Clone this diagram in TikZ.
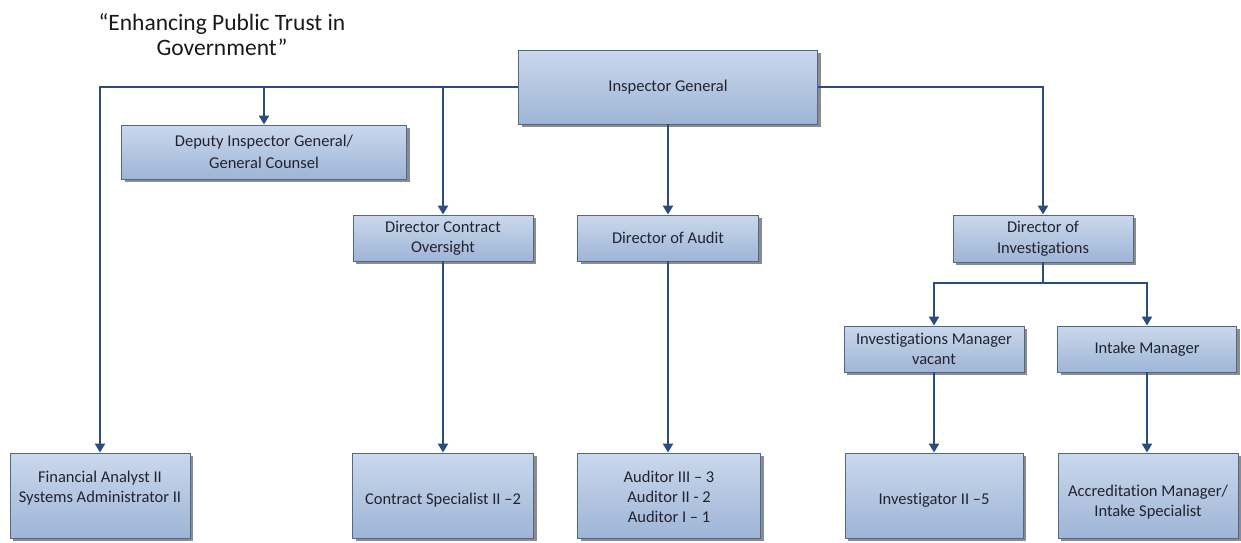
\documentclass[tikz,border=0pt]{standalone}
\usepackage{fontspec}
\setmainfont{Carlito}[Ligatures=NoCommon]
\usetikzlibrary{shadows,arrows.meta}
\definecolor{boxtop}{RGB}{202,216,236}
\definecolor{boxbot}{RGB}{158,181,214}
\definecolor{boxline}{RGB}{78,104,142}
\definecolor{linkc}{RGB}{43,76,126}
\definecolor{txtc}{RGB}{35,35,45}
\begin{document}
\begin{tikzpicture}[x=1pt,y=-1pt,
  orgbox/.style={draw=boxline, line width=0.9pt, top color=boxtop, bottom color=boxbot,
    shading angle=0, inner sep=2pt, align=center, text=txtc,
    font=\fontsize{16.5}{20.5}\selectfont,
    drop shadow={shadow xshift=3pt, shadow yshift=-3pt, fill=black!50, opacity=0.9}},
  boxtext/.style={align=center, text=txtc, inner sep=0pt, font=\fontsize{16.5}{20}\selectfont},
  link/.style={draw=linkc, line width=2.3pt},
  arr/.style={link, -{Triangle[width=10pt,length=9pt]}}]
\useasboundingbox (0,0) rectangle (1241,542);
\node[font=\fontsize{23.5}{25}\selectfont, align=center, text=black!90] (title) at (222,35)
  {“Enhancing Public Trust in\\Government”};
% boxes
\node[orgbox, minimum width=299pt, minimum height=74pt] (ig) at (668,87) {Inspector General};
\node[orgbox, minimum width=285pt, minimum height=54pt, font=\fontsize{16.5}{22}\selectfont] (dep) at (264,152) {Deputy Inspector General/\\General Counsel};
\node[orgbox, minimum width=180pt, minimum height=46pt] (dco) at (443,238) {Director Contract\\Oversight};
\node[orgbox, minimum width=181pt, minimum height=46pt] (doa) at (668,238) {Director of Audit};
\node[orgbox, minimum width=180pt, minimum height=47pt] (doi) at (1043,238.5) {Director of\\Investigations};
\node[orgbox, minimum width=180pt, minimum height=46pt] (im) at (934,349) {Investigations Manager\\vacant};
\node[orgbox, minimum width=179pt, minimum height=46pt] (intake) at (1147,349) {Intake Manager};
\node[orgbox, minimum width=180pt, minimum height=85pt] (fin) at (100,495.5) {};
\node[orgbox, minimum width=181pt, minimum height=85pt] (cs) at (443,495.5) {};
\node[orgbox, minimum width=183pt, minimum height=85pt] (aud) at (669,495.5) {};
\node[orgbox, minimum width=178pt, minimum height=85pt] (inv) at (934,495.5) {};
\node[orgbox, minimum width=180pt, minimum height=85pt] (acc) at (1148,495.5) {};
\node[boxtext] (fint) at (100,488) {Financial Analyst II\\Systems Administrator II};
\node[boxtext] (cst) at (443,500) {Contract Specialist II –2};
\node[boxtext] (audt) at (669,497) {Auditor III – 3\\Auditor II - 2\\Auditor I – 1};
\node[boxtext] (invt) at (934,500) {Investigator II –5};
\node[boxtext] (acct) at (1148,502) {Accreditation Manager/\\Intake Specialist};
% connectors
\draw[arr] (ig.west) -| (fin.north);
\draw[arr] (ig.east) -| (doi.north);
\draw[arr] (dep.north |- ig.west) -- (dep.north);
\draw[arr] (dco.north |- ig.west) -- (dco.north);
\draw[arr] (ig.south) -- (doa.north);
\draw[arr] (dco.south) -- (dco.south |- cs.north);
\draw[arr] (doa.south) -- (doa.south |- aud.north);
\coordinate (split) at (1043,283);
\draw[link] (doi.south) -- (split);
\draw[arr] (split) -| (im.north);
\draw[arr] (split) -| (intake.north);
\draw[arr] (im.south) -- (inv.north);
\draw[arr] (intake.south) -- (intake.south |- acc.north);
\end{tikzpicture}
\end{document}
